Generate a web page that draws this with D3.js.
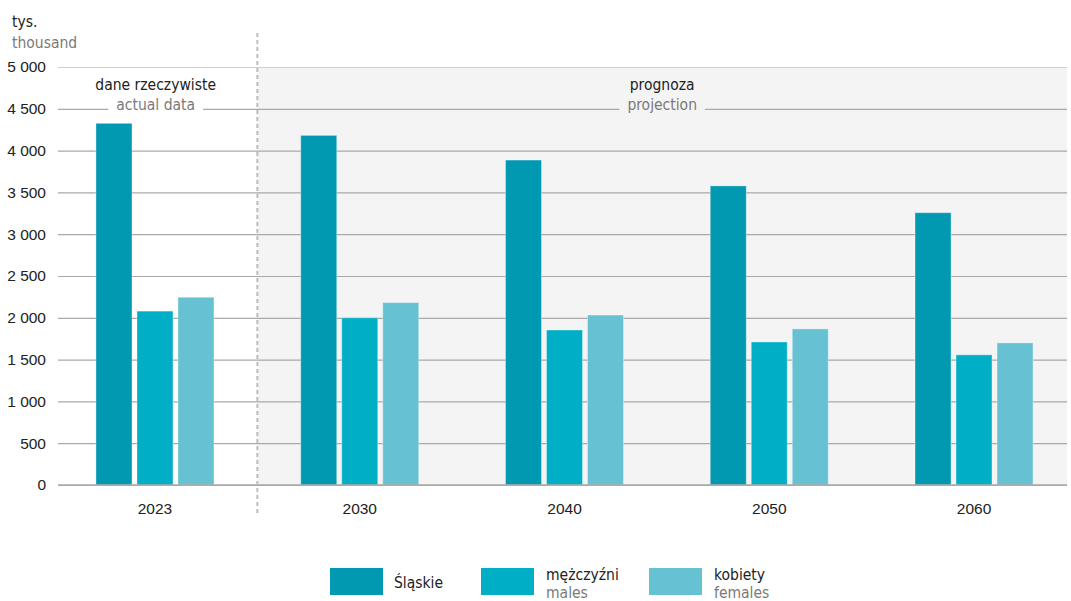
<!DOCTYPE html>
<html>
<head>
<meta charset="utf-8">
<script src="https://cdn.jsdelivr.net/npm/d3@7"></script>
<style>
  html, body { margin: 0; padding: 0; background: #fff; }
  svg { display: block; font-family: "DejaVu Sans Condensed", "DejaVu Sans", sans-serif; font-stretch: condensed; }
</style>
</head>
<body>
<svg id="chart" width="1071" height="601"></svg>
<script>
// Population of the Śląskie voivodeship (thousands): 2023 actual, then projection
const years = ["2023", "2030", "2040", "2050", "2060"];
const seriesKeys = ["total", "males", "females"];
const totalValues = [4326, 4182, 3887, 3578, 3257];
const maleValues = [2080, 2000, 1854, 1711, 1557];
const femaleValues = [2246, 2182, 2033, 1867, 1700];
const yTicks = [0, 500, 1000, 1500, 2000, 2500, 3000, 3500, 4000, 4500, 5000];
const legendLabels = [
  { key: "total", pl: "Śląskie", en: null },
  { key: "males", pl: "mężczyźni", en: "males" },
  { key: "females", pl: "kobiety", en: "females" }
];

const colors = { total: "#0099b1", males: "#00afc6", females: "#66c2d3" };
const valuesByKey = { total: totalValues, males: maleValues, females: femaleValues };

const svg = d3.select("#chart");
const gridLeft = 58, gridRight = 1067;
const y0 = 485, yTop = 67;
const fs = 15.5;

const y = d3.scaleLinear().domain([0, 5000]).range([y0, yTop]);
const x = d3.scaleBand().domain(years).range([52.6, 1076.4])
  .paddingInner(0.4237).paddingOuter(0.21185);
const xs = d3.scaleBand().domain(seriesKeys).range([0, x.bandwidth()]).paddingInner(0.122);

const fmt = d3.formatLocale({ decimal: ",", thousands: " ", grouping: [3], currency: ["", " zł"] }).format(",d");

// projection background region
const divX = (x("2023") + x.bandwidth() + x("2030")) / 2;
svg.append("rect")
  .attr("x", divX).attr("y", yTop)
  .attr("width", gridRight - divX).attr("height", y0 - yTop)
  .attr("fill", "#f4f4f4");

// horizontal gridlines and y axis labels
const yAxis = svg.append("g").attr("transform", `translate(${gridLeft},0)`)
  .call(d3.axisLeft(y).tickValues(yTicks).tickFormat(fmt)
    .tickSize(-(gridRight - gridLeft)).tickPadding(12));
yAxis.select(".domain").remove();
yAxis.selectAll(".tick line")
  .attr("stroke", d => d === 5000 ? "#cfcfcf" : "#a9a9a9")
  .attr("stroke-width", 1.2);
yAxis.selectAll(".tick text")
  .attr("fill", "#222").attr("font-size", fs)
  .attr("font-family", "inherit");

// unit label
svg.append("text").attr("x", 12).attr("y", 27).attr("font-size", fs).attr("fill", "#222").text("tys.");
svg.append("text").attr("x", 12).attr("y", 48).attr("font-size", fs).attr("fill", "#7a7a7a").text("thousand");

// period labels with boxes breaking the gridline
function periodLabel(cx, pl, en, bg) {
  const g = svg.append("g");
  const box = g.append("rect").attr("fill", bg);
  g.append("text").attr("x", cx).attr("y", 90).attr("text-anchor", "middle")
    .attr("font-size", fs).attr("fill", "#222").text(pl);
  const t = g.append("text").attr("x", cx).attr("y", 110).attr("text-anchor", "middle")
    .attr("font-size", fs).attr("fill", "#7a7a7a").text(en);
  const bb = t.node().getBBox();
  box.attr("x", bb.x - 8).attr("y", 98).attr("width", bb.width + 16).attr("height", 18);
}
periodLabel((gridLeft + divX) / 2 - 2, "dane rzeczywiste", "actual data", "#ffffff");
periodLabel((divX + gridRight) / 2, "prognoza", "projection", "#f4f4f4");

// bars
const groups = svg.append("g").selectAll("g").data(years).join("g")
  .attr("transform", d => `translate(${x(d)},0)`);
groups.selectAll("rect")
  .data((d, i) => seriesKeys.map(k => ({ key: k, value: valuesByKey[k][i] })))
  .join("rect")
  .attr("x", d => xs(d.key))
  .attr("y", d => y(d.value))
  .attr("width", xs.bandwidth())
  .attr("height", d => y0 - y(d.value))
  .attr("fill", d => colors[d.key])
  .attr("stroke", "rgba(255,255,255,0.35)")
  .attr("stroke-width", 1);

// baseline
svg.append("line").attr("x1", gridLeft).attr("x2", gridRight)
  .attr("y1", y0).attr("y2", y0).attr("stroke", "#a9a9a9").attr("stroke-width", 1.5);

// divider between actual data and projection
svg.append("line").attr("x1", divX).attr("x2", divX)
  .attr("y1", 33).attr("y2", 514)
  .attr("stroke", "#bdbdbd").attr("stroke-width", 2).attr("stroke-dasharray", "4,3");

// x axis labels
const xAxis = svg.append("g").attr("transform", `translate(0,${y0})`)
  .call(d3.axisBottom(x).tickSize(0).tickPadding(18));
xAxis.select(".domain").remove();
xAxis.selectAll(".tick text").attr("fill", "#222").attr("font-size", fs).attr("font-family", "inherit");

// legend
const legendX = [330, 481, 649];
const lg = svg.append("g");
legendLabels.forEach((l, i) => {
  lg.append("rect").attr("x", legendX[i]).attr("y", 568).attr("width", 53).attr("height", 27)
    .attr("fill", colors[l.key]);
  if (l.en) {
    lg.append("text").attr("x", legendX[i] + 65).attr("y", 580).attr("font-size", fs)
      .attr("fill", "#222").text(l.pl);
    lg.append("text").attr("x", legendX[i] + 65).attr("y", 598).attr("font-size", fs)
      .attr("fill", "#7a7a7a").text(l.en);
  } else {
    lg.append("text").attr("x", legendX[i] + 64).attr("y", 588).attr("font-size", fs)
      .attr("fill", "#222").text(l.pl);
  }
});
</script>
</body>
</html>
